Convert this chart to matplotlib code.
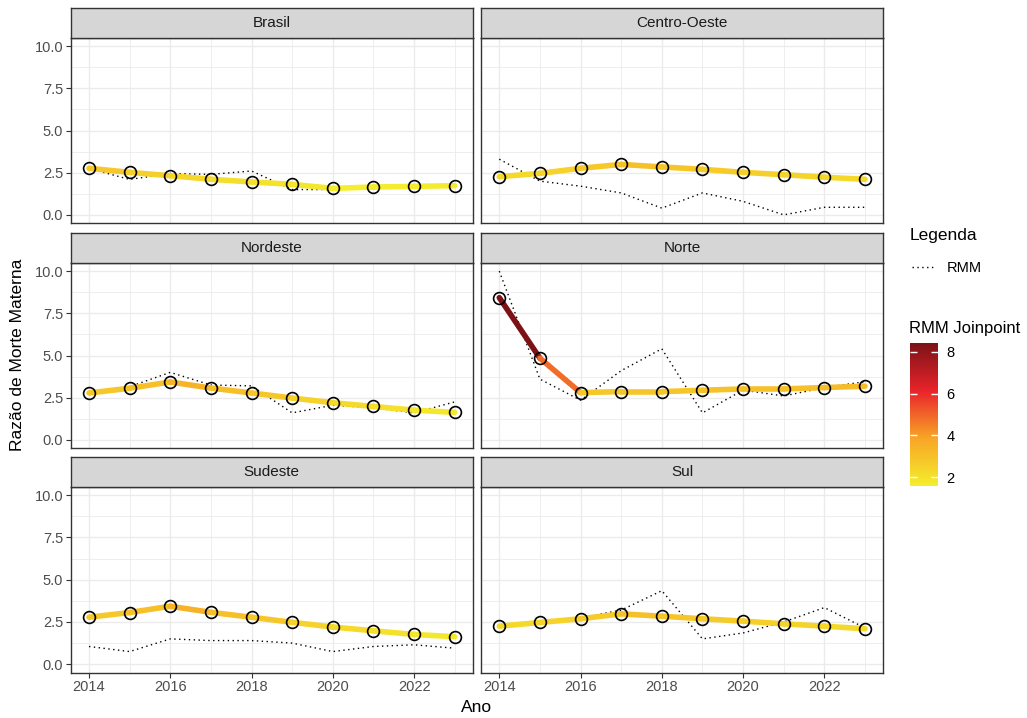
import numpy as np
import matplotlib
matplotlib.use('Agg')
import matplotlib.pyplot as plt
from matplotlib.collections import LineCollection
from matplotlib.colors import LinearSegmentedColormap, Normalize
from matplotlib.lines import Line2D
import matplotlib.colorbar as mcolorbar

plt.rcParams['font.family'] = ['Liberation Sans', 'DejaVu Sans']

anos = np.arange(2014, 2024)
regioes = ['Brasil', 'Centro-Oeste', 'Nordeste', 'Norte', 'Sudeste', 'Sul']

# razao de morte materna observada (linha pontilhada)
rmm_brasil = [2.75, 2.1, 2.45, 2.4, 2.6, 1.5, 1.5, 1.6, 1.7, 1.75]
rmm_centro_oeste = [3.3, 2.0, 1.7, 1.3, 0.4, 1.3, 0.8, 0.0, 0.45, 0.45]
rmm_nordeste = [2.8, 3.15, 4.0, 3.25, 3.2, 1.6, 2.05, 1.9, 1.6, 2.25]
rmm_norte = [10.0, 3.6, 2.35, 4.1, 5.4, 1.6, 2.95, 2.6, 3.1, 3.45]
rmm_sudeste = [1.05, 0.75, 1.5, 1.4, 1.4, 1.25, 0.75, 1.05, 1.15, 0.95]
rmm_sul = [2.25, 2.45, 2.75, 3.2, 4.35, 1.5, 1.85, 2.5, 3.35, 2.15]

# valores ajustados pelo joinpoint
jp_brasil = [2.76, 2.52, 2.32, 2.11, 1.95, 1.81, 1.57, 1.65, 1.69, 1.73]
jp_centro_oeste = [2.26, 2.46, 2.76, 2.99, 2.84, 2.70, 2.52, 2.38, 2.23, 2.11]
jp_nordeste = [2.78, 3.06, 3.43, 3.07, 2.78, 2.48, 2.20, 1.98, 1.76, 1.63]
jp_norte = [8.43, 4.84, 2.80, 2.86, 2.86, 2.94, 3.02, 3.02, 3.10, 3.18]
jp_sudeste = [2.78, 3.06, 3.43, 3.07, 2.78, 2.48, 2.20, 1.98, 1.76, 1.63]
jp_sul = [2.25, 2.47, 2.69, 2.98, 2.84, 2.69, 2.55, 2.39, 2.25, 2.10]

rmm = [rmm_brasil, rmm_centro_oeste, rmm_nordeste, rmm_norte, rmm_sudeste, rmm_sul]
jp = [jp_brasil, jp_centro_oeste, jp_nordeste, jp_norte, jp_sudeste, jp_sul]

W, H = 1027, 718
cmap = LinearSegmentedColormap.from_list(
    'jp', ['#f4ee2c', '#f8a526', '#e8232b', '#7c1216'])
todos = np.concatenate(jp)
norm = Normalize(todos.min(), todos.max())

fig = plt.figure(figsize=(W / 100, H / 100), dpi=100)

cols = [(70.7, 473.0), (481.0, 883.3)]
rows = [(37.7, 223.3), (262.7, 448.3), (486.7, 672.7)]
strip_h = 29.4


def fig_rect(x0, x1, y0, y1):
    return [x0 / W, 1 - y1 / H, (x1 - x0) / W, (y1 - y0) / H]


for i, nome in enumerate(regioes):
    r, c = divmod(i, 2)
    x0, x1 = cols[c]
    y0, y1 = rows[r]
    ax = fig.add_axes(fig_rect(x0, x1, y0, y1))
    ax.set_xlim(2013.55, 2023.45)
    ax.set_ylim(-0.5, 10.5)
    ax.set_xticks(np.arange(2014, 2024, 2))
    ax.set_xticks(np.arange(2015, 2024, 2), minor=True)
    ax.set_yticks([0, 2.5, 5, 7.5, 10])
    ax.set_yticks([1.25, 3.75, 6.25, 8.75], minor=True)
    ax.grid(which='major', color='#ebebeb', lw=1.0)
    ax.grid(which='minor', color='#ebebeb', lw=0.6)
    ax.set_axisbelow(True)
    for s in ax.spines.values():
        s.set_color('#333333')
        s.set_linewidth(1.0)
    ax.tick_params(which='minor', length=0)
    ax.tick_params(which='major', length=3.5, width=0.8, color='#333333',
                   labelsize=10.5, labelcolor='#4d4d4d', pad=2)
    if c == 0:
        ax.set_yticklabels(['0.0', '2.5', '5.0', '7.5', '10.0'])
    else:
        ax.tick_params(axis='y', left=False, labelleft=False)
    if r != 2:
        ax.tick_params(axis='x', bottom=False, labelbottom=False)

    ax.plot(anos, rmm[i], color='black', lw=1.0, linestyle=(0, (1, 2.5)),
            zorder=2)
    vals = np.array(jp[i])
    pts = np.column_stack([anos, vals]).reshape(-1, 1, 2)
    segs = np.concatenate([pts[:-1], pts[1:]], axis=1)
    lc = LineCollection(segs, cmap=cmap, norm=norm, linewidths=4.0,
                        capstyle='round', zorder=3)
    lc.set_array(vals[:-1])
    ax.add_collection(lc)
    ax.plot(anos, vals, 'o', ms=8.5, mfc='none', mec='black', mew=1.2,
            zorder=4)

    sax = fig.add_axes(fig_rect(x0, x1, y0 - strip_h, y0))
    sax.set_facecolor('#d6d6d6')
    sax.set_xticks([])
    sax.set_yticks([])
    for s in sax.spines.values():
        s.set_color('#333333')
        s.set_linewidth(1.0)
    sax.text(0.5, 0.5, nome, ha='center', va='center', fontsize=11,
             color='#1a1a1a', transform=sax.transAxes)

fig.text(18 / W, 1 - 355 / H, 'Razão de Morte Materna', rotation=90,
         ha='center', va='center', fontsize=12.5)
fig.text(477 / W, 1 - 708 / H, 'Ano', ha='center', va='center',
         fontsize=12.5)

# legenda
fig.text(910 / W, 1 - 236 / H, 'Legenda', ha='left', va='center',
         fontsize=12.5)
fig.add_artist(Line2D([912 / W, 935 / W], [1 - 267 / H, 1 - 267 / H],
                      color='black', lw=1.0, linestyle=(0, (1, 2.5)),
                      transform=fig.transFigure))
fig.text(947 / W, 1 - 268 / H, 'RMM', ha='left', va='center', fontsize=10.5)

fig.text(909 / W, 1 - 328 / H, 'RMM Joinpoint', ha='left', va='center',
         fontsize=12)
cax = fig.add_axes(fig_rect(910, 938.3, 343, 486))
cb = mcolorbar.ColorbarBase(cax, cmap=cmap, norm=norm, orientation='vertical')
cb.outline.set_visible(False)
cb.set_ticks([2, 4, 6, 8])
cax.tick_params(direction='in', color='white', length=5, width=1,
                left=True, right=True, labelsize=10.5, pad=6)

fig.savefig('out.png', dpi=100)
